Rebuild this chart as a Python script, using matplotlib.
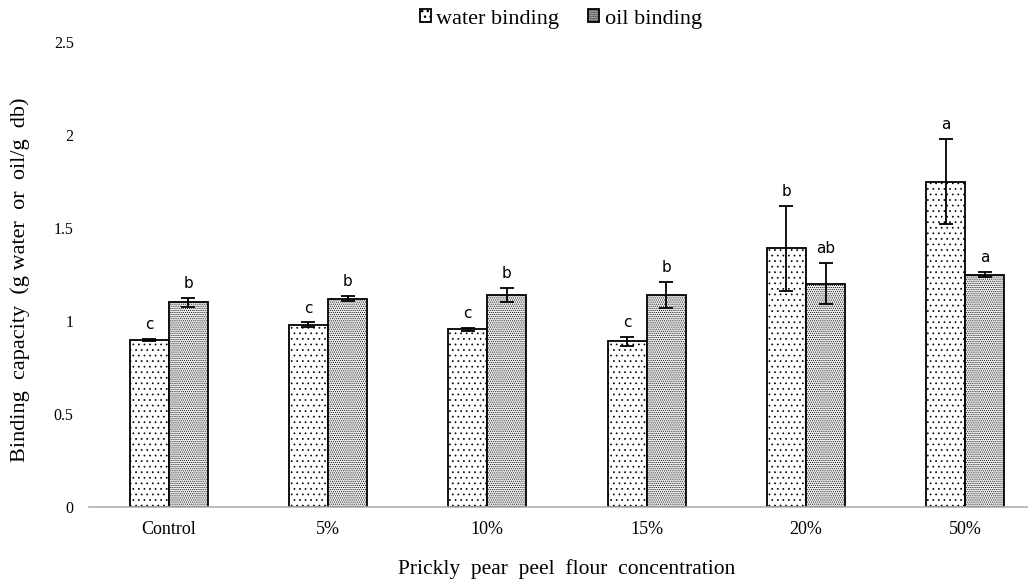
import matplotlib
matplotlib.use("Agg")
import matplotlib.pyplot as plt
import numpy as np

categories = ["Control", "5%", "10%", "15%", "20%", "50%"]
water = [0.90, 0.98, 0.955, 0.89, 1.39, 1.75]
water_err = [0.005, 0.012, 0.008, 0.022, 0.23, 0.23]
water_letters = ["c", "c", "c", "c", "b", "a"]
oil = [1.10, 1.12, 1.14, 1.14, 1.20, 1.25]
oil_err = [0.025, 0.015, 0.04, 0.07, 0.11, 0.015]
oil_letters = ["b", "b", "b", "b", "ab", "a"]

plt.rcParams["hatch.color"] = "black"

fig = plt.figure(figsize=(10.28, 5.80), dpi=100)
ax = fig.add_axes([89 / 1028, 1 - 507 / 580, (1045 - 89) / 1028, (507 - 42) / 580])

x = np.arange(len(categories))
w = 0.245
serif = "Liberation Serif"
err_style = dict(elinewidth=1.3, capthick=1.3, ecolor="black")

wb = ax.bar(x - w / 2, water, w, yerr=water_err, facecolor="white", edgecolor="black",
            linewidth=1.3, hatch="...", capsize=5, error_kw=err_style,
            label="water binding", zorder=2)
ob = ax.bar(x + w / 2, oil, w, yerr=oil_err, facecolor="#ececec", edgecolor="black",
            linewidth=1.3, hatch="........", capsize=5, error_kw=err_style,
            label="oil binding", zorder=2)
for p in wb:
    p.set_hatch_linewidth(0.5)
for p in ob:
    p.set_hatch_linewidth(0.45)

for xi, v, e, t in zip(x - w / 2, water, water_err, water_letters):
    ax.annotate(t, (xi, v + e), xytext=(0, 5), textcoords="offset points",
                ha="center", va="bottom", fontsize=11, family="DejaVu Sans")
for xi, v, e, t in zip(x + w / 2, oil, oil_err, oil_letters):
    ax.annotate(t, (xi, v + e), xytext=(0, 5), textcoords="offset points",
                ha="center", va="bottom", fontsize=11, family="DejaVu Sans")

ax.set_xlim(-0.5, len(categories) - 0.5)
ax.set_ylim(0, 2.5)
ax.set_yticks([0, 0.5, 1, 1.5, 2, 2.5])
ax.set_yticklabels(["0", "0.5", "1", "1.5", "2", "2.5"])
ax.set_xticks(x)
ax.set_xticklabels(categories)
for lbl in ax.get_yticklabels():
    lbl.set_family(serif)
    lbl.set_fontsize(11.5)
for lbl in ax.get_xticklabels():
    lbl.set_family(serif)
    lbl.set_fontsize(13)
ax.tick_params(axis="y", length=0, pad=11)
ax.tick_params(axis="x", length=0, pad=10)

for s in ["top", "right", "left"]:
    ax.spines[s].set_visible(False)
ax.spines["bottom"].set_color("#b0b0b0")
ax.spines["bottom"].set_linewidth(1.2)

fig.text(20 / 1028, 1 - 280 / 580, "Binding  capacity  (g water  or  oil/g  db)",
         rotation=90, ha="center", va="center", family=serif, fontsize=16)
fig.text(567 / 1028, 1 - 569 / 580, "Prickly  pear  peel  flour  concentration",
         ha="center", va="center", family=serif, fontsize=15.5)

leg = fig.legend(handles=[wb, ob], loc="center", bbox_to_anchor=(561 / 1028, 1 - 19 / 580),
                 ncol=2, frameon=False, prop=dict(family=serif, size=16),
                 handlelength=0.5, handleheight=0.5, handletextpad=0.25, columnspacing=1.3)

fig.savefig("out.png", dpi=100)
